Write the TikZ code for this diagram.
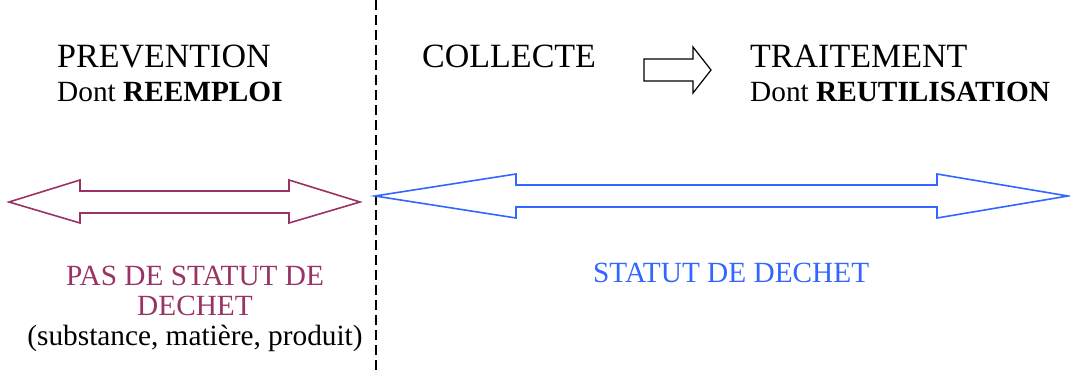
\documentclass[tikz,border=0pt]{standalone}
\usepackage{fontspec}
\setmainfont{Liberation Serif}
\usetikzlibrary{positioning}
\definecolor{wine}{RGB}{153,51,102}
\definecolor{azure}{RGB}{51,102,255}

\begin{document}
\begin{tikzpicture}[x=1pt, y=-1pt,
      big/.style={anchor=base west, inner sep=0pt, font=\fontsize{34}{40}\selectfont},
      small/.style={anchor=base west, inner sep=0pt, font=\fontsize{29.3}{32}\selectfont},
      label/.style={anchor=base, inner sep=0pt, font=\fontsize{29.3}{32}\selectfont},
      hollow/.style={line width=1.6pt, line join=miter}
    ]
    \useasboundingbox (0,0) rectangle (1070,372);
    % dividing line
    \draw[line width=1.6pt, dash pattern=on 10pt off 5pt] (376,0) -- (376,372);
    % headings
    \node[big] (prev) at (57,67) {PREVENTION};
    \node[small] (reemp) at (57,101) {Dont \textbf{REEMPLOI}};
    \node[big] (coll) at (422,67) {COLLECTE};
    \node[big] (trait) at (750,67) {TRAITEMENT};
    \node[small] (reut) at (750,101) {Dont \textbf{REUTILISATION}};
    % small arrow
    \draw[hollow, line width=1.2pt] (644,59) -- (693,59) -- (693,47) -- (711,70)
      -- (693,93) -- (693,81) -- (644,81) -- cycle;
    % double arrows
    \draw[hollow, wine] (9,202) -- (80,180) -- (80,191) -- (289,191) -- (289,180)
      -- (360,202) -- (289,223) -- (289,213) -- (80,213) -- (80,223) -- cycle;
    \draw[hollow, azure] (375,196) -- (516,174) -- (516,185) -- (937,185) -- (937,174)
      -- (1068,196) -- (937,218) -- (937,207) -- (516,207) -- (516,218) -- cycle;
    % status labels
    \node[label, text=wine] (pas) at (195,285) {PAS DE STATUT DE};
    \node[label, text=wine] (dechet) at (195,315) {DECHET};
    \node[label] (subst) at (195,345) {(substance, matière, produit)};
    \node[small, text=azure] (statut) at (593,282) {STATUT DE DECHET};
\end{tikzpicture}
\end{document}
